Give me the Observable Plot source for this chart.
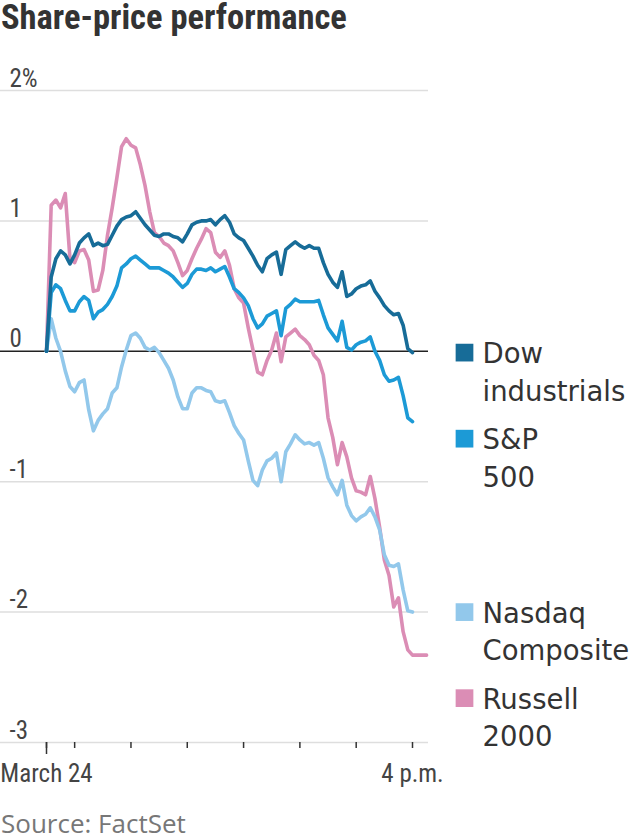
<!DOCTYPE html>
<html>
<head>
<meta charset="utf-8">
<script src="https://cdn.jsdelivr.net/npm/d3@7"></script>
<script src="https://cdn.jsdelivr.net/npm/@observablehq/plot@0.6"></script>
<style>
  html, body { margin: 0; padding: 0; background: #fff; }
  body { width: 630px; height: 838px; overflow: hidden; position: relative; }
  #title { position: absolute; left: 1px; top: 0px; font-family: "Roboto Condensed", "Liberation Sans Narrow", "Arial Narrow", Roboto, sans-serif; font-weight: 700; font-size: 34.5px; color: #333; line-height: 34px; white-space: nowrap; }
  #chart { position: absolute; left: 0; top: 44px; }
  #source { position: absolute; left: 1px; top: 809px; font-family: "Open Sans", "DejaVu Sans", sans-serif; font-size: 26px; color: #777; line-height: 28px; white-space: nowrap; }
</style>
</head>
<body>
<div id="title">Share-price performance</div>
<div id="chart"></div>
<div id="source">Source: FactSet</div>
<script>
// ---- data (percent change, sampled every 5 minutes from 9:30 a.m.) ----
const sessionStart = "09:30";
const stepMinutes = 5;
const seriesNames = ["Dow industrials", "S&P 500", "Nasdaq Composite", "Russell 2000"];
const legendLabels = ["Dow\nindustrials", "S&P\n500", "Nasdaq\nComposite", "Russell\n2000"];
const seriesColors = ["#176c98", "#1c9ad6", "#92c8eb", "#db8db5"];

const dow = [0.00,0.57,0.71,0.77,0.74,0.67,0.74,0.83,0.87,0.90,
  0.81,0.83,0.81,0.82,0.89,0.96,1.01,1.03,1.04,1.07,
  1.02,0.97,0.93,0.89,0.88,0.90,0.90,0.88,0.87,0.84,
  0.90,0.97,0.99,1.00,1.00,1.01,0.97,1.01,1.04,0.99,
  0.90,0.87,0.85,0.79,0.73,0.66,0.61,0.71,0.74,0.76,
  0.59,0.78,0.81,0.84,0.81,0.79,0.81,0.79,0.79,0.68,
  0.59,0.53,0.49,0.61,0.42,0.44,0.48,0.50,0.51,0.54,
  0.46,0.41,0.35,0.31,0.28,0.29,0.20,0.02,-0.01];

const sp500 = [0.00,0.45,0.51,0.48,0.39,0.31,0.31,0.38,0.42,0.39,
  0.25,0.30,0.32,0.36,0.42,0.50,0.64,0.67,0.71,0.73,
  0.70,0.67,0.64,0.64,0.64,0.62,0.60,0.57,0.53,0.49,
  0.52,0.59,0.63,0.63,0.62,0.64,0.61,0.63,0.65,0.57,
  0.48,0.45,0.41,0.35,0.25,0.18,0.21,0.27,0.29,0.31,
  0.12,0.33,0.36,0.40,0.38,0.38,0.38,0.38,0.39,0.28,
  0.18,0.13,0.08,0.23,0.03,0.01,0.05,0.07,0.08,0.11,
  0.00,-0.07,-0.18,-0.23,-0.22,-0.20,-0.34,-0.51,-0.54];

const nasdaq = [0.00,0.25,0.10,0.00,-0.15,-0.27,-0.31,-0.24,-0.22,-0.45,
  -0.61,-0.53,-0.48,-0.44,-0.32,-0.28,-0.12,0.01,0.12,0.14,
  0.10,0.03,0.01,0.03,-0.01,-0.07,-0.13,-0.22,-0.35,-0.44,
  -0.44,-0.32,-0.28,-0.28,-0.30,-0.31,-0.38,-0.39,-0.38,-0.47,
  -0.57,-0.63,-0.68,-0.84,-0.99,-1.03,-0.91,-0.84,-0.82,-0.78,
  -1.00,-0.77,-0.71,-0.64,-0.68,-0.71,-0.70,-0.72,-0.70,-0.82,
  -0.97,-1.04,-1.10,-0.99,-1.18,-1.26,-1.30,-1.27,-1.25,-1.20,
  -1.27,-1.37,-1.56,-1.64,-1.65,-1.63,-1.83,-1.99,-2.00];

const russell = [0.00,1.12,1.16,1.10,1.21,0.71,0.68,0.77,0.78,0.70,
  0.46,0.47,0.62,0.89,1.10,1.33,1.57,1.63,1.58,1.56,
  1.43,1.27,1.07,0.91,0.88,0.83,0.81,0.77,0.68,0.58,
  0.62,0.71,0.79,0.86,0.94,0.91,0.76,0.72,0.77,0.66,
  0.48,0.41,0.37,0.18,0.01,-0.16,-0.18,-0.07,0.01,0.14,
  -0.08,0.11,0.14,0.17,0.12,0.09,0.05,-0.03,-0.07,-0.18,
  -0.51,-0.66,-0.87,-0.70,-0.81,-0.97,-1.07,-1.08,-1.10,-0.96,
  -1.13,-1.35,-1.60,-1.72,-1.96,-1.89,-2.15,-2.29,-2.33,-2.33,
  -2.33,-2.33];

const yTicks = [2, 1, 0, -1, -2, -3];
const xTickTimes = ["09:30", "10:00", "11:00", "12:00", "13:00", "14:00", "15:00", "16:00"];
const xTickLabels = {"09:30": "March 24", "16:00": "4 p.m."};
const closeTime = "16:00";

// ---- build ----
const parseT = s => { const [h, m] = s.split(":").map(Number); return new Date(Date.UTC(2021, 2, 24, h, m)); };
const t0 = parseT(sessionStart);
const tClose = parseT(closeTime);
const fmtHM = d3.utcFormat("%H:%M");
const valuesList = [dow, sp500, nasdaq, russell];

const rows = [];
valuesList.forEach((vals, si) => {
  vals.forEach((v, i) => rows.push({name: seriesNames[si], time: d3.utcMinute.offset(t0, i * stepMinutes), value: v}));
});

// legend labels placed at each series' closing value, nudged apart so they don't collide
const closeIndex = d3.utcMinute.count(t0, tClose) / stepMinutes;
const gap = 0.66;
const legend = seriesNames.map((name, i) => ({name, label: legendLabels[i], time: tClose, end: valuesList[i][closeIndex]}))
  .sort((a, b) => b.end - a.end);
legend.forEach((d, i) => { d.ly = i === 0 ? d.end : Math.min(d.end, legend[i - 1].ly - gap); });

const narrow = '"Roboto Condensed", "Liberation Sans Narrow", "Arial Narrow", Roboto, sans-serif';
const wide = '"DejaVu Sans", "Open Sans", sans-serif';
const lineStyle = {x: "time", y: "value", stroke: "name", strokeWidth: 3.6, strokeLinejoin: "round", strokeLinecap: "round"};

const chart = Plot.plot({
  width: 630,
  height: 756,
  marginLeft: 0,
  marginRight: 202,
  marginTop: 46,
  marginBottom: 58,
  insetLeft: 46,
  insetRight: 16,
  x: {type: "utc", domain: [t0, tClose]},
  y: {domain: [-3, 2]},
  color: {domain: seriesNames, range: seriesColors},
  style: {fontFamily: narrow, background: "#fff", overflow: "visible"},
  marks: [
    Plot.ruleY(yTicks.filter(d => d !== 0), {stroke: "#dedede", strokeWidth: 1.5}),
    Plot.ruleY([0], {stroke: "#222", strokeWidth: 1.6}),
    Plot.text(yTicks, {
      y: d => d, frameAnchor: "left", text: d => d === 2 ? "2%" : String(d),
      textAnchor: "start", dx: 9, lineAnchor: "bottom", dy: -4,
      fontSize: 25, fill: "#444", fontFamily: narrow
    }),
    Plot.axisX(xTickTimes.map(parseT), {
      anchor: "bottom", tickSize: 6, tickPadding: 16, stroke: "#333", strokeWidth: 1.5,
      tickFormat: d => xTickLabels[fmtHM(d)] ?? null, fontSize: 25, fill: "#444", fontFamily: narrow, label: null
    }),
    Plot.axisX([t0], {anchor: "bottom", tickSize: 12, stroke: "#333", strokeWidth: 1.5, tickFormat: () => null, label: null}),
    Plot.line(rows.filter(d => d.name === "Russell 2000"), lineStyle),
    Plot.line(rows.filter(d => d.name === "Nasdaq Composite"), lineStyle),
    Plot.line(rows.filter(d => d.name === "S&P 500"), lineStyle),
    Plot.line(rows.filter(d => d.name === "Dow industrials"), lineStyle),
    Plot.dot(legend, {x: "time", y: "ly", fill: "name", symbol: "square", r: 10, dx: 52}),
    Plot.text(legend, {
      x: "time", y: "ly", text: "label", dx: 70, dy: -16, textAnchor: "start", lineAnchor: "top",
      lineHeight: 1.36, fontSize: 27.5, fill: "#333", fontFamily: wide
    })
  ]
});
document.getElementById("chart").appendChild(chart);
</script>
</body>
</html>
